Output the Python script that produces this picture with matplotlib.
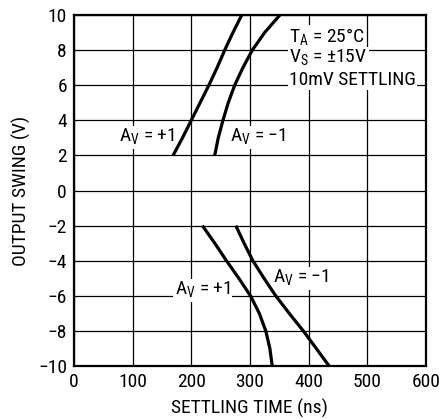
import matplotlib
matplotlib.use("Agg")
import matplotlib.pyplot as plt

plt.rcParams["font.family"] = ["Liberation Sans Narrow", "Roboto Condensed", "Liberation Sans", "DejaVu Sans"]

# curves (settling time in ns, output swing in V)
pos_av1_t = [169, 185, 200, 215, 230, 244, 257, 271, 286]
pos_av1_v = [2, 3, 4, 5, 6, 7, 8, 9, 10]
pos_avm1_t = [240, 246, 254, 263, 274, 288, 304, 325, 351]
pos_avm1_v = [2, 3, 4, 5, 6, 7, 8, 9, 10]

neg_av1_t = [219, 240, 260, 281, 301, 316, 327, 334, 338]
neg_av1_v = [-2, -3, -4, -5, -6, -7, -8, -9, -10]
neg_avm1_t = [276, 290, 305, 324, 344, 367, 391, 413, 435]
neg_avm1_v = [-2, -3, -4, -5, -6, -7, -8, -9, -10]

xticks = [0, 100, 200, 300, 400, 500, 600]
yticks = [-10, -8, -6, -4, -2, 0, 2, 4, 6, 8, 10]
ytick_labels = ["\u221210", "\u22128", "\u22126", "\u22124", "\u22122", "0", "2", "4", "6", "8", "10"]

fs = 14

fig = plt.figure(figsize=(4.4, 4.19), dpi=100)
ax = fig.add_axes([0.168, 0.1265, 0.8, 0.8375])

for t, v in [(pos_av1_t, pos_av1_v), (pos_avm1_t, pos_avm1_v),
             (neg_av1_t, neg_av1_v), (neg_avm1_t, neg_avm1_v)]:
    ax.plot(t, v, color="black", lw=2.3, solid_capstyle="butt", zorder=3)

ax.set_xlim(0, 600)
ax.set_ylim(-10, 10)
ax.set_xticks(xticks)
ax.set_yticks(yticks)
ax.set_yticklabels(ytick_labels)
ax.tick_params(length=0, labelsize=fs, pad=5)
ax.grid(True, color="black", lw=0.9)
for s in ax.spines.values():
    s.set_linewidth(1.6)

ax.set_xlabel("SETTLING TIME (ns)", fontsize=fs, labelpad=6)
ax.set_ylabel("OUTPUT SWING (V)", fontsize=fs, labelpad=5)

box = dict(facecolor="white", edgecolor="none", pad=1)
ax.text(367, 8.75, "T$_\\mathregular{A}$ = 25\u00b0C", fontsize=fs, va="center", bbox=box, zorder=2)
ax.text(367, 7.55, "V$_\\mathregular{S}$ = \u00b115V", fontsize=fs, va="center", bbox=box, zorder=2)
ax.text(367, 6.3, "10mV SETTLING", fontsize=fs, va="center", bbox=box, zorder=2)

ax.text(77, 3.05, "A$_\\mathregular{V}$ = +1", fontsize=fs, va="center", bbox=box, zorder=2)
ax.text(266, 3.05, "A$_\\mathregular{V}$ = \u22121", fontsize=fs, va="center", bbox=box, zorder=2)
ax.text(172, -5.67, "A$_\\mathregular{V}$ = +1", fontsize=fs, va="center", bbox=box, zorder=2)
ax.text(339, -5.0, "A$_\\mathregular{V}$ = \u22121", fontsize=fs, va="center", bbox=box, zorder=2)

fig.savefig("out.png", dpi=100)
